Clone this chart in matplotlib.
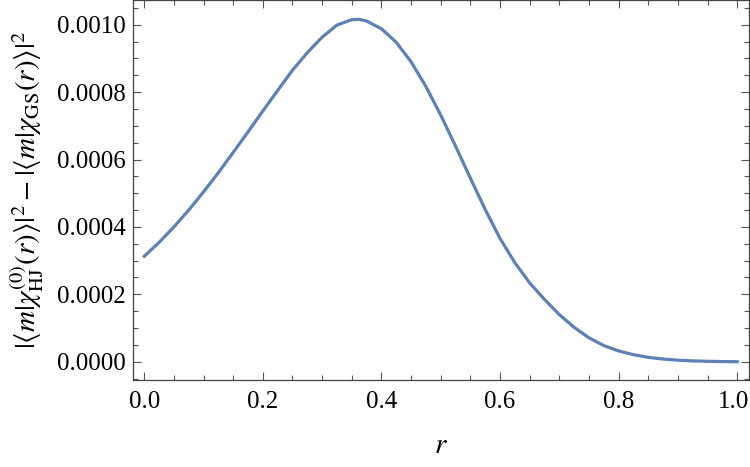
import matplotlib
matplotlib.use("Agg")
import matplotlib.pyplot as plt
import matplotlib.ticker as ticker
import matplotlib.transforms as mtransforms

# curve values
r_vals = [0.0, 0.025, 0.05, 0.075, 0.1, 0.125, 0.15, 0.175, 0.2, 0.225,
          0.25, 0.275, 0.3, 0.325, 0.35, 0.3625, 0.375, 0.4, 0.425, 0.45,
          0.475, 0.5, 0.525, 0.55, 0.575, 0.6, 0.625, 0.65, 0.675, 0.7,
          0.725, 0.75, 0.775, 0.8, 0.825, 0.85, 0.875, 0.9, 0.925, 0.95,
          0.975, 1.0]
diff_e6 = [313, 354, 400, 450, 504, 561, 621, 682, 744, 805,
           865, 917, 963, 999, 1015, 1016, 1011, 988, 948, 890,
           817, 732, 640, 545, 452, 366, 294, 234, 185, 140,
           102, 71, 48, 32, 21, 13, 8, 4.5, 2.5, 1.3,
           0.5, 0.0]
diff_vals = [v * 1e-6 for v in diff_e6]

plt.rcParams['font.family'] = ['Liberation Serif', 'DejaVu Serif']
plt.rcParams['mathtext.fontset'] = 'stix'

fig = plt.figure(figsize=(7.5, 4.67), dpi=100)
ax = fig.add_axes([0.1773, 0.1863, 0.8214, 0.8127])

ax.plot(r_vals, diff_vals, color='#5E81B5', lw=2.3)

ax.set_xlim(-0.019, 1.02)
ax.set_ylim(-0.0000542, 0.001072)

ax.xaxis.set_major_locator(ticker.MultipleLocator(0.2))
ax.xaxis.set_minor_locator(ticker.MultipleLocator(0.05))
ax.yaxis.set_major_locator(ticker.MultipleLocator(0.0002))
ax.yaxis.set_minor_locator(ticker.MultipleLocator(0.00005))
ax.xaxis.set_major_formatter(ticker.FormatStrFormatter('%.1f'))
ax.yaxis.set_major_formatter(ticker.FormatStrFormatter('%.4f'))

ax.tick_params(which='both', direction='in', top=True, right=True,
               color='#555555', labelsize=18, width=0.8)
ax.tick_params(which='major', length=6)
ax.tick_params(axis='x', which='major', pad=8)
ax.tick_params(axis='y', which='major', pad=5)
ax.tick_params(which='minor', length=3.5)
for s in ax.spines.values():
    s.set_color('#444444')
    s.set_linewidth(0.9)

ax.set_xlabel(r'$r$', fontsize=21, labelpad=14)
ax.set_ylabel(r'$|\langle m|\chi^{(0)}_{\rm HJ}(r)\rangle|^2-|\langle m|\chi_{\rm GS}(r)\rangle|^2$',
              fontsize=21, labelpad=8)

# nudge the "1.0" label so it stays inside the canvas
fig.canvas.draw()
shift = mtransforms.ScaledTranslation(-4 / 100, 0, fig.dpi_scale_trans)
for lab in ax.get_xticklabels():
    if lab.get_text() == '1.0':
        lab.set_transform(lab.get_transform() + shift)

fig.savefig('out.png', dpi=100)
